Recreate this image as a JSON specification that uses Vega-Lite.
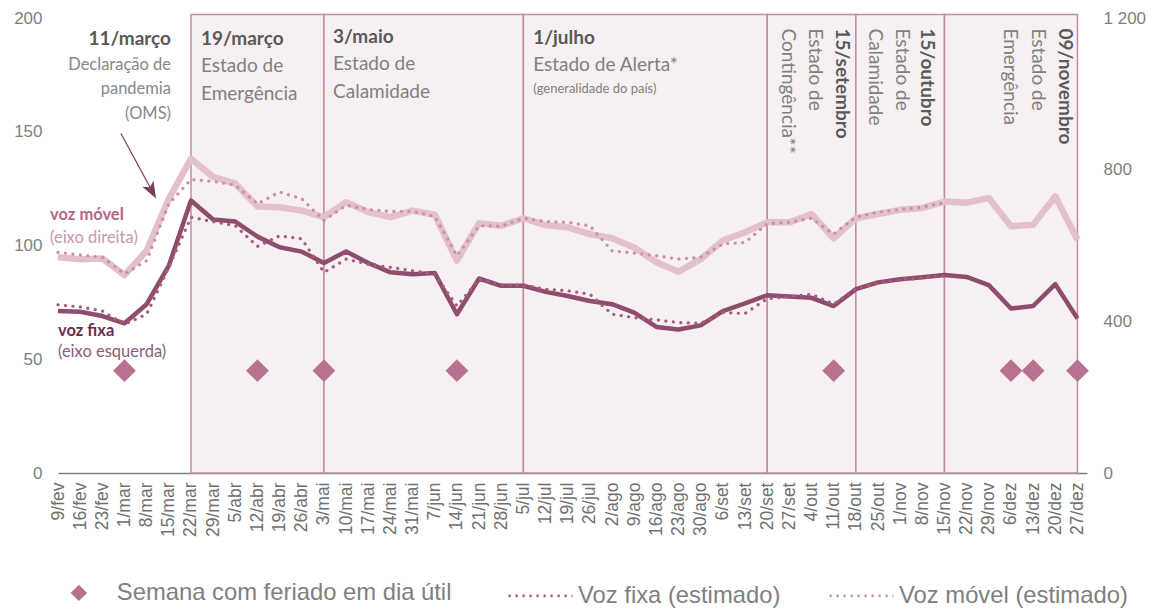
{
  "$schema": "https://vega.github.io/schema/vega-lite/v6.json",
  "width": 1029,
  "height": 455,
  "autosize": {"type": "none"},
  "padding": {"left": 58, "top": 18, "right": 74, "bottom": 135},
  "background": "white",
  "config": {
    "view": {"stroke": null},
    "axis": {"grid": false, "ticks": false, "tickSize": 0, "labelFont": "Liberation Sans", "labelColor": "#7f7f7f"},
    "axisX": {"labelOverlap": false, "labelFont": "Liberation Sans"},
    "axisY": {"labelFont": "Liberation Sans"},
    "text": {"font": "Lato"}
  },
  "datasets": {
    "series": [
      {"i": 0, "week": "9/fev", "fixa": 71.2, "movel": 569, "fixa_est": 73.9, "movel_est": 582},
      {"i": 1, "week": "16/fev", "fixa": 70.9, "movel": 564, "fixa_est": 73.0, "movel_est": 575},
      {"i": 2, "week": "23/fev", "fixa": 69.0, "movel": 566, "fixa_est": 71.2, "movel_est": 569},
      {"i": 3, "week": "1/mar", "fixa": 65.8, "movel": 522, "fixa_est": 65.3, "movel_est": 525},
      {"i": 4, "week": "8/mar", "fixa": 74.2, "movel": 586, "fixa_est": 69.8, "movel_est": 560},
      {"i": 5, "week": "15/mar", "fixa": 91.1, "movel": 723, "fixa_est": 90.4, "movel_est": 710},
      {"i": 6, "week": "22/mar", "fixa": 119.8, "movel": 829, "fixa_est": 112.4, "movel_est": 774},
      {"i": 7, "week": "29/mar", "fixa": 111.4, "movel": 781, "fixa_est": 110.5, "movel_est": 769},
      {"i": 8, "week": "5/abr", "fixa": 110.5, "movel": 763, "fixa_est": 108.7, "movel_est": 759},
      {"i": 9, "week": "12/abr", "fixa": 103.9, "movel": 703, "fixa_est": 99.6, "movel_est": 710},
      {"i": 10, "week": "19/abr", "fixa": 99.2, "movel": 701, "fixa_est": 104.3, "movel_est": 741},
      {"i": 11, "week": "26/abr", "fixa": 97.3, "movel": 692, "fixa_est": 102.9, "movel_est": 723},
      {"i": 12, "week": "3/mai", "fixa": 92.3, "movel": 675, "fixa_est": 88.2, "movel_est": 666},
      {"i": 13, "week": "10/mai", "fixa": 97.4, "movel": 714, "fixa_est": 94.0, "movel_est": 706},
      {"i": 14, "week": "17/mai", "fixa": 92.3, "movel": 688, "fixa_est": 91.8, "movel_est": 695},
      {"i": 15, "week": "24/mai", "fixa": 88.2, "movel": 675, "fixa_est": 90.4, "movel_est": 690},
      {"i": 16, "week": "31/mai", "fixa": 87.4, "movel": 692, "fixa_est": 88.9, "movel_est": 690},
      {"i": 17, "week": "7/jun", "fixa": 87.9, "movel": 681, "fixa_est": 87.4, "movel_est": 677},
      {"i": 18, "week": "14/jun", "fixa": 69.8, "movel": 560, "fixa_est": 73.4, "movel_est": 573},
      {"i": 19, "week": "21/jun", "fixa": 85.5, "movel": 659, "fixa_est": 85.2, "movel_est": 652},
      {"i": 20, "week": "28/jun", "fixa": 82.3, "movel": 652, "fixa_est": 82.6, "movel_est": 651},
      {"i": 21, "week": "5/jul", "fixa": 82.3, "movel": 672, "fixa_est": 82.6, "movel_est": 672},
      {"i": 22, "week": "12/jul", "fixa": 79.6, "movel": 654, "fixa_est": 80.8, "movel_est": 663},
      {"i": 23, "week": "19/jul", "fixa": 77.8, "movel": 648, "fixa_est": 80.1, "movel_est": 661},
      {"i": 24, "week": "26/jul", "fixa": 75.6, "movel": 630, "fixa_est": 78.6, "movel_est": 652},
      {"i": 25, "week": "2/ago", "fixa": 74.2, "movel": 619, "fixa_est": 69.8, "movel_est": 586},
      {"i": 26, "week": "9/ago", "fixa": 70.5, "movel": 595, "fixa_est": 68.3, "movel_est": 580},
      {"i": 27, "week": "16/ago", "fixa": 64.2, "movel": 556, "fixa_est": 67.3, "movel_est": 573},
      {"i": 28, "week": "23/ago", "fixa": 63.1, "movel": 531, "fixa_est": 66.1, "movel_est": 564},
      {"i": 29, "week": "30/ago", "fixa": 64.9, "movel": 564, "fixa_est": 65.8, "movel_est": 569},
      {"i": 30, "week": "6/set", "fixa": 71.2, "movel": 613, "fixa_est": 70.5, "movel_est": 604},
      {"i": 31, "week": "13/set", "fixa": 74.6, "movel": 635, "fixa_est": 70.1, "movel_est": 608},
      {"i": 32, "week": "20/set", "fixa": 78.1, "movel": 661, "fixa_est": 76.6, "movel_est": 657},
      {"i": 33, "week": "27/set", "fixa": 77.6, "movel": 661, "fixa_est": 77.6, "movel_est": 661},
      {"i": 34, "week": "4/out", "fixa": 77.0, "movel": 683, "fixa_est": 78.6, "movel_est": 672},
      {"i": 35, "week": "11/out", "fixa": 73.4, "movel": 619, "fixa_est": 74.2, "movel_est": 630},
      {"i": 36, "week": "18/out", "fixa": 80.8, "movel": 672, "fixa_est": 81.1, "movel_est": 675},
      {"i": 37, "week": "25/out", "fixa": 83.8, "movel": 683, "fixa_est": 83.4, "movel_est": 688},
      {"i": 38, "week": "1/nov", "fixa": 85.2, "movel": 694, "fixa_est": 84.8, "movel_est": 695},
      {"i": 39, "week": "8/nov", "fixa": 86.0, "movel": 699, "fixa_est": 85.7, "movel_est": 701},
      {"i": 40, "week": "15/nov", "fixa": 87.0, "movel": 716, "fixa_est": 86.7, "movel_est": 713},
      {"i": 41, "week": "22/nov", "fixa": 86.2, "movel": 713, "fixa_est": null, "movel_est": null},
      {"i": 42, "week": "29/nov", "fixa": 82.6, "movel": 725, "fixa_est": null, "movel_est": null},
      {"i": 43, "week": "6/dez", "fixa": 72.3, "movel": 651, "fixa_est": null, "movel_est": null},
      {"i": 44, "week": "13/dez", "fixa": 73.4, "movel": 655, "fixa_est": null, "movel_est": null},
      {"i": 45, "week": "20/dez", "fixa": 83.0, "movel": 730, "fixa_est": null, "movel_est": null},
      {"i": 46, "week": "27/dez", "fixa": 67.9, "movel": 615, "fixa_est": null, "movel_est": null}
    ],
    "periods": [
      {"s": 6, "e": 12, "name": "Estado de Emergência"},
      {"s": 12, "e": 21, "name": "Estado de Calamidade"},
      {"s": 21, "e": 32, "name": "Estado de Alerta"},
      {"s": 32, "e": 36, "name": "Estado de Contingência"},
      {"s": 36, "e": 40, "name": "Estado de Calamidade"},
      {"s": 40, "e": 46, "name": "Estado de Emergência"}
    ],
    "holidays": [
      {"i": 3, "v": 45, "k": "Semana com feriado em dia útil"},
      {"i": 9, "v": 45, "k": "Semana com feriado em dia útil"},
      {"i": 12, "v": 45, "k": "Semana com feriado em dia útil"},
      {"i": 18, "v": 45, "k": "Semana com feriado em dia útil"},
      {"i": 35, "v": 45, "k": "Semana com feriado em dia útil"},
      {"i": 43, "v": 45, "k": "Semana com feriado em dia útil"},
      {"i": 44, "v": 45, "k": "Semana com feriado em dia útil"},
      {"i": 46, "v": 45, "k": "Semana com feriado em dia útil"}
    ],
    "notes": [
      {"role": "head", "i": 6.45, "v": 190.9, "t": "19/março"},
      {"role": "desc", "i": 6.45, "v": 179.0, "t": "Estado de"},
      {"role": "desc", "i": 6.45, "v": 166.4, "t": "Emergência"},
      {"role": "head", "i": 12.41, "v": 191.6, "t": "3/maio"},
      {"role": "desc", "i": 12.41, "v": 179.7, "t": "Estado de"},
      {"role": "desc", "i": 12.41, "v": 167.3, "t": "Calamidade"},
      {"role": "head", "i": 21.44, "v": 191.2, "t": "1/julho"},
      {"role": "desc", "i": 21.44, "v": 179.4, "t": "Estado de Alerta*"},
      {"role": "note", "i": 21.44, "v": 168.9, "t": "(generalidade do país)"},
      {"role": "headr", "i": 5.1, "v": 190.9, "t": "11/março"},
      {"role": "descr", "i": 5.1, "v": 179.4, "t": "Declaração de"},
      {"role": "descr", "i": 5.1, "v": 168.8, "t": "pandemia"},
      {"role": "descr", "i": 5.1, "v": 157.9, "t": "(OMS)"},
      {"role": "rhead", "i": 35.38, "v": 195.4, "t": "15/setembro"},
      {"role": "rdesc", "i": 34.16, "v": 195.4, "t": "Estado de"},
      {"role": "rdesc", "i": 32.94, "v": 195.4, "t": "Contingência**"},
      {"role": "rhead", "i": 39.22, "v": 195.4, "t": "15/outubro"},
      {"role": "rdesc", "i": 38.09, "v": 195.4, "t": "Estado de"},
      {"role": "rdesc", "i": 36.87, "v": 195.4, "t": "Calamidade"},
      {"role": "rhead", "i": 45.44, "v": 195.4, "t": "09/novembro"},
      {"role": "rdesc", "i": 44.22, "v": 195.4, "t": "Estado de"},
      {"role": "rdesc", "i": 42.96, "v": 195.4, "t": "Emergência"}
    ]
  },
  "layer": [
    {
      "data": {"name": "periods"},
      "mark": {"type": "rect", "fill": "#f7f0f3", "stroke": "#c48aa5", "strokeWidth": 1.5},
      "encoding": {
        "x": {"field": "s", "type": "quantitative", "title": null,
              "scale": {"domain": [0, 46.43], "nice": false, "zero": false},
              "axis": {"values": [0,1,2,3,4,5,6,7,8,9,10,11,12,13,14,15,16,17,18,19,20,21,22,23,24,25,26,27,28,29,30,31,32,33,34,35,36,37,38,39,40,41,42,43,44,45,46],
                       "tickCount": 47,
                       "labelExpr": "['9/fev','16/fev','23/fev','1/mar','8/mar','15/mar','22/mar','29/mar','5/abr','12/abr','19/abr','26/abr','3/mai','10/mai','17/mai','24/mai','31/mai','7/jun','14/jun','21/jun','28/jun','5/jul','12/jul','19/jul','26/jul','2/ago','9/ago','16/ago','23/ago','30/ago','6/set','13/set','20/set','27/set','4/out','11/out','18/out','25/out','1/nov','8/nov','15/nov','22/nov','29/nov','6/dez','13/dez','20/dez','27/dez'][datum.value]",
                       "labelAngle": -90, "labelFont": "Liberation Sans", "labelFontSize": 17.5, "labelPadding": 9, "labelOverlap": false, "labelBound": false, "labelFlush": false,
                       "domain": true, "domainColor": "#7f7f7f", "domainWidth": 1.3, "labelColor": "#707070"}},
        "x2": {"field": "e"},
        "y": {"datum": 0, "type": "quantitative", "title": null,
              "scale": {"domain": [0, 200], "nice": false},
              "axis": {"orient": "left", "values": [0, 50, 100, 150, 200], "labelFont": "Liberation Sans", "labelFontSize": 17, "labelPadding": 16, "domain": false}},
        "y2": {"datum": 201.5}
      }
    },
    {
      "data": {"name": "series"},
      "layer": [
        {
          "mark": {"type": "line", "stroke": "#e2c0cd", "strokeWidth": 6.5, "strokeJoin": "round"},
          "encoding": {
            "x": {"field": "i", "type": "quantitative", "title": null, "scale": {"domain": [0, 46.43], "nice": false, "zero": false}},
            "y": {"field": "movel", "type": "quantitative", "title": null,
                  "scale": {"domain": [0, 1200], "nice": false},
                  "axis": {"orient": "right", "values": [0, 400, 800, 1200], "labelExpr": "datum.value == 1200 ? '1 200' : datum.value + ''", "labelFont": "Liberation Sans", "labelFontSize": 17, "labelPadding": 16, "domain": false}}
          }
        },
        {
          "mark": {"type": "line", "strokeWidth": 3.2, "strokeDash": [0.1, 7.4], "strokeCap": "round"},
          "encoding": {
            "x": {"field": "i", "type": "quantitative", "title": null, "scale": {"domain": [0, 46.43], "nice": false, "zero": false}},
            "y": {"field": "movel_est", "type": "quantitative", "title": null, "scale": {"domain": [0, 1200], "nice": false}},
            "color": {"datum": "Voz móvel (estimado)"}
          }
        }
      ]
    },
    {
      "layer": [
        {
          "data": {"name": "series"},
          "mark": {"type": "line", "stroke": "#8e4d6c", "strokeWidth": 4.5, "strokeJoin": "round"},
          "encoding": {
            "x": {"field": "i", "type": "quantitative", "title": null, "scale": {"domain": [0, 46.43], "nice": false, "zero": false}},
            "y": {"field": "fixa", "type": "quantitative", "title": null, "scale": {"domain": [0, 200], "nice": false}, "axis": null}
          }
        },
        {
          "data": {"name": "series"},
          "mark": {"type": "line", "strokeWidth": 3.2, "strokeDash": [0.1, 7.4], "strokeCap": "round"},
          "encoding": {
            "x": {"field": "i", "type": "quantitative", "title": null, "scale": {"domain": [0, 46.43], "nice": false, "zero": false}},
            "y": {"field": "fixa_est", "type": "quantitative", "title": null, "scale": {"domain": [0, 200], "nice": false}, "axis": null},
            "color": {"datum": "Voz fixa (estimado)",
                      "scale": {"domain": ["Voz fixa (estimado)", "Voz móvel (estimado)"], "range": ["#a65c7e", "#cd8eaa"]},
                      "legend": {"orient": "none", "legendX": 449, "legendY": 544, "direction": "horizontal", "title": null,
                                 "labelFont": "Liberation Sans", "labelFontSize": 23.8, "labelColor": "#7f7f7f", "labelOffset": 4, "labelLimit": 600,
                                 "symbolType": "stroke", "symbolSize": 4096, "symbolStrokeWidth": 2.8, "symbolDash": [2.2, 4.8], "columnPadding": 42}}
          }
        },
        {
          "data": {"name": "holidays"},
          "mark": {"type": "point", "filled": true, "size": 520, "opacity": 1, "color": "#b87291"},
          "encoding": {
            "x": {"field": "i", "type": "quantitative", "title": null, "scale": {"domain": [0, 46.43], "nice": false, "zero": false}},
            "y": {"field": "v", "type": "quantitative", "title": null, "scale": {"domain": [0, 200], "nice": false}, "axis": null},
            "shape": {"field": "k", "type": "nominal",
                      "scale": {"domain": ["Semana com feriado em dia útil"], "range": ["diamond"]},
                      "legend": {"orient": "none", "legendX": 9, "legendY": 563, "direction": "horizontal", "title": null,
                                 "labelFont": "Liberation Sans", "labelFontSize": 23.8, "labelColor": "#7f7f7f", "labelOffset": 26, "labelLimit": 600,
                                 "symbolSize": 270, "symbolFillColor": "#b87291", "symbolStrokeWidth": 0, "symbolOpacity": 1}}
          }
        },
        {
          "data": {"values": [{"i1": 2.84, "v1": 149.2, "i2": 4.3, "v2": 123.0}]},
          "mark": {"type": "rule", "stroke": "#7b3d5c", "strokeWidth": 1.2},
          "encoding": {
            "x": {"field": "i1", "type": "quantitative", "title": null, "scale": {"domain": [0, 46.43], "nice": false, "zero": false}},
            "y": {"field": "v1", "type": "quantitative", "title": null, "scale": {"domain": [0, 200], "nice": false}, "axis": null},
            "x2": {"field": "i2"},
            "y2": {"field": "v2"}
          }
        },
        {
          "data": {"values": [{"i": 4.2, "v": 124.6}]},
          "mark": {"type": "point", "shape": "M0,1L-0.62,-0.65L0,-0.25L0.62,-0.65Z", "filled": true, "size": 420, "color": "#7b3d5c", "opacity": 1, "angle": 331.6},
          "encoding": {
            "x": {"field": "i", "type": "quantitative", "title": null, "scale": {"domain": [0, 46.43], "nice": false, "zero": false}},
            "y": {"field": "v", "type": "quantitative", "title": null, "scale": {"domain": [0, 200], "nice": false}, "axis": null}
          }
        },
        {
          "data": {"name": "notes"},
          "transform": [{"filter": "datum.role === 'head'"}],
          "mark": {"type": "text", "align": "left", "baseline": "middle", "fontWeight": "bold", "fontSize": 19, "color": "#595959"},
          "encoding": {
            "x": {"field": "i", "type": "quantitative", "title": null, "scale": {"domain": [0, 46.43], "nice": false, "zero": false}},
            "y": {"field": "v", "type": "quantitative", "title": null, "scale": {"domain": [0, 200], "nice": false}, "axis": null},
            "text": {"field": "t"}
          }
        },
        {
          "data": {"name": "notes"},
          "transform": [{"filter": "datum.role === 'desc'"}],
          "mark": {"type": "text", "align": "left", "baseline": "middle", "fontSize": 19, "color": "#808080"},
          "encoding": {
            "x": {"field": "i", "type": "quantitative", "title": null, "scale": {"domain": [0, 46.43], "nice": false, "zero": false}},
            "y": {"field": "v", "type": "quantitative", "title": null, "scale": {"domain": [0, 200], "nice": false}, "axis": null},
            "text": {"field": "t"}
          }
        },
        {
          "data": {"name": "notes"},
          "transform": [{"filter": "datum.role === 'note'"}],
          "mark": {"type": "text", "align": "left", "baseline": "middle", "fontSize": 13, "color": "#808080"},
          "encoding": {
            "x": {"field": "i", "type": "quantitative", "title": null, "scale": {"domain": [0, 46.43], "nice": false, "zero": false}},
            "y": {"field": "v", "type": "quantitative", "title": null, "scale": {"domain": [0, 200], "nice": false}, "axis": null},
            "text": {"field": "t"}
          }
        },
        {
          "data": {"name": "notes"},
          "transform": [{"filter": "datum.role === 'headr'"}],
          "mark": {"type": "text", "align": "right", "baseline": "middle", "fontWeight": "bold", "fontSize": 19, "color": "#595959"},
          "encoding": {
            "x": {"field": "i", "type": "quantitative", "title": null, "scale": {"domain": [0, 46.43], "nice": false, "zero": false}},
            "y": {"field": "v", "type": "quantitative", "title": null, "scale": {"domain": [0, 200], "nice": false}, "axis": null},
            "text": {"field": "t"}
          }
        },
        {
          "data": {"name": "notes"},
          "transform": [{"filter": "datum.role === 'descr'"}],
          "mark": {"type": "text", "align": "right", "baseline": "middle", "fontSize": 16.5, "color": "#888888"},
          "encoding": {
            "x": {"field": "i", "type": "quantitative", "title": null, "scale": {"domain": [0, 46.43], "nice": false, "zero": false}},
            "y": {"field": "v", "type": "quantitative", "title": null, "scale": {"domain": [0, 200], "nice": false}, "axis": null},
            "text": {"field": "t"}
          }
        },
        {
          "data": {"name": "notes"},
          "transform": [{"filter": "datum.role === 'rhead'"}],
          "mark": {"type": "text", "align": "left", "baseline": "middle", "angle": 90, "fontWeight": "bold", "fontSize": 19, "color": "#595959"},
          "encoding": {
            "x": {"field": "i", "type": "quantitative", "title": null, "scale": {"domain": [0, 46.43], "nice": false, "zero": false}},
            "y": {"field": "v", "type": "quantitative", "title": null, "scale": {"domain": [0, 200], "nice": false}, "axis": null},
            "text": {"field": "t"}
          }
        },
        {
          "data": {"name": "notes"},
          "transform": [{"filter": "datum.role === 'rdesc'"}],
          "mark": {"type": "text", "align": "left", "baseline": "middle", "angle": 90, "fontSize": 19, "color": "#808080"},
          "encoding": {
            "x": {"field": "i", "type": "quantitative", "title": null, "scale": {"domain": [0, 46.43], "nice": false, "zero": false}},
            "y": {"field": "v", "type": "quantitative", "title": null, "scale": {"domain": [0, 200], "nice": false}, "axis": null},
            "text": {"field": "t"}
          }
        },
        {
          "data": {"values": [{"i": -0.36, "v": 113.5, "t": "voz móvel"}]},
          "mark": {"type": "text", "align": "left", "baseline": "middle", "fontWeight": "bold", "fontSize": 16.5, "color": "#b5668a"},
          "encoding": {
            "x": {"field": "i", "type": "quantitative", "title": null, "scale": {"domain": [0, 46.43], "nice": false, "zero": false}},
            "y": {"field": "v", "type": "quantitative", "title": null, "scale": {"domain": [0, 200], "nice": false}, "axis": null},
            "text": {"field": "t"}
          }
        },
        {
          "data": {"values": [{"i": -0.36, "v": 103.3, "t": "(eixo direita)"}]},
          "mark": {"type": "text", "align": "left", "baseline": "middle", "fontSize": 16.5, "color": "#c997ae"},
          "encoding": {
            "x": {"field": "i", "type": "quantitative", "title": null, "scale": {"domain": [0, 46.43], "nice": false, "zero": false}},
            "y": {"field": "v", "type": "quantitative", "title": null, "scale": {"domain": [0, 200], "nice": false}, "axis": null},
            "text": {"field": "t"}
          }
        },
        {
          "data": {"values": [{"i": 0, "v": 62.3, "t": "voz fixa"}]},
          "mark": {"type": "text", "align": "left", "baseline": "middle", "fontWeight": "bold", "fontSize": 16.5, "color": "#6d2e4e"},
          "encoding": {
            "x": {"field": "i", "type": "quantitative", "title": null, "scale": {"domain": [0, 46.43], "nice": false, "zero": false}},
            "y": {"field": "v", "type": "quantitative", "title": null, "scale": {"domain": [0, 200], "nice": false}, "axis": null},
            "text": {"field": "t"}
          }
        },
        {
          "data": {"values": [{"i": 0, "v": 53.0, "t": "(eixo esquerda)"}]},
          "mark": {"type": "text", "align": "left", "baseline": "middle", "fontSize": 16.5, "color": "#8d5d76"},
          "encoding": {
            "x": {"field": "i", "type": "quantitative", "title": null, "scale": {"domain": [0, 46.43], "nice": false, "zero": false}},
            "y": {"field": "v", "type": "quantitative", "title": null, "scale": {"domain": [0, 200], "nice": false}, "axis": null},
            "text": {"field": "t"}
          }
        }
      ]
    }
  ],
  "resolve": {"scale": {"y": "independent"}}
}
